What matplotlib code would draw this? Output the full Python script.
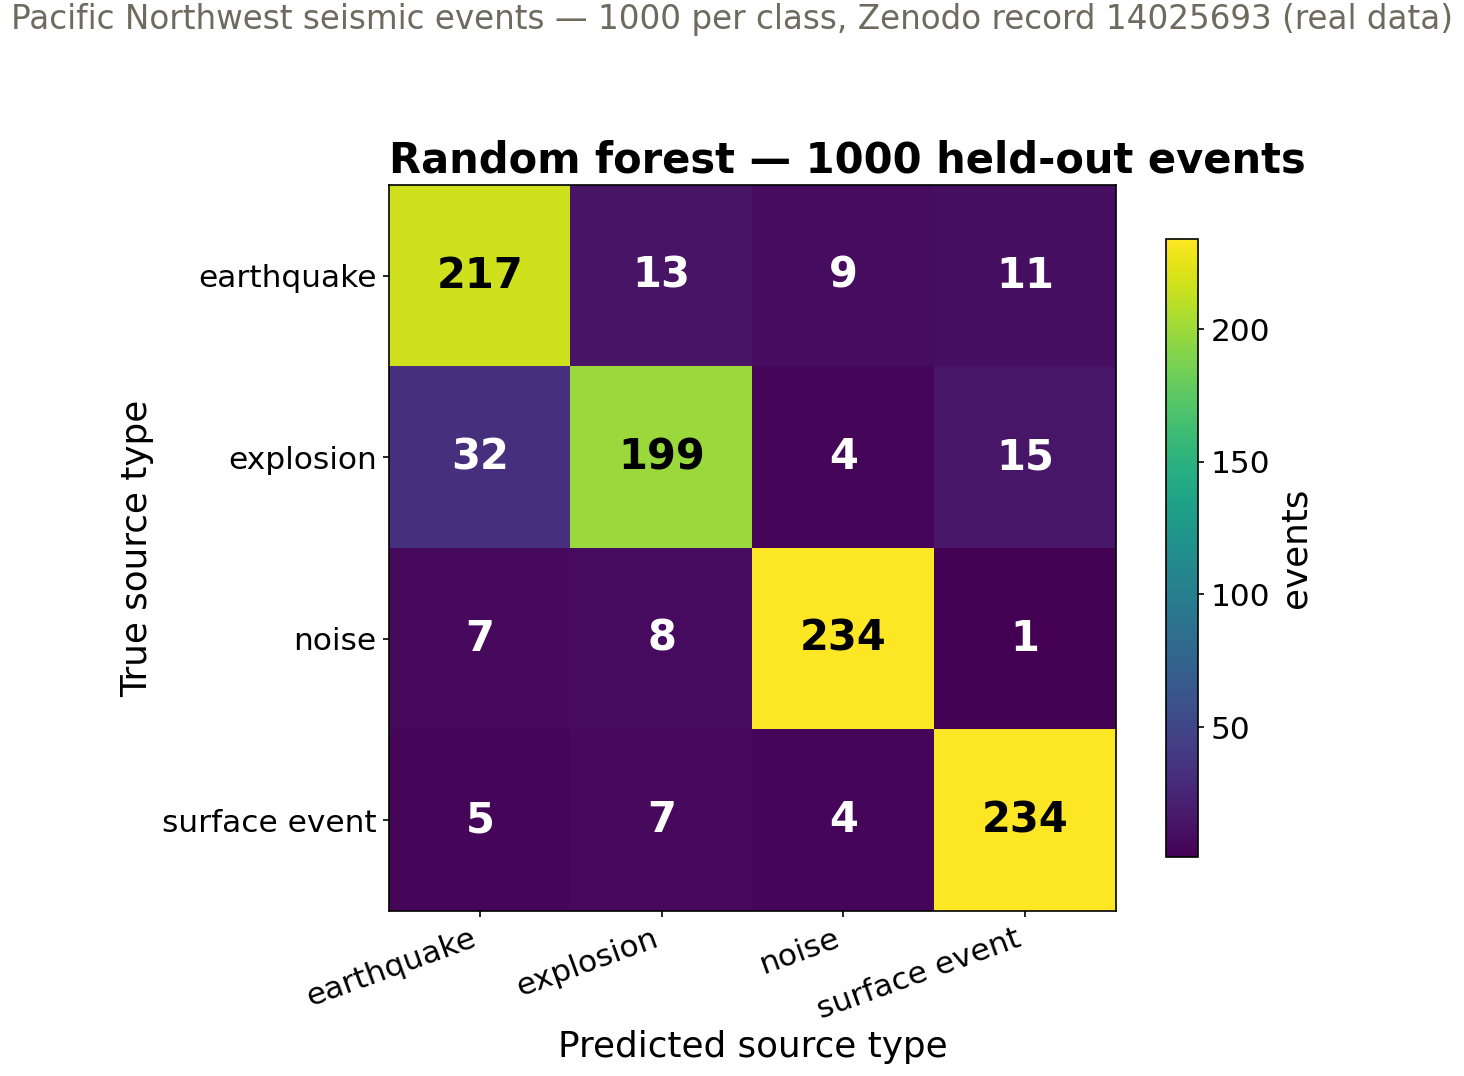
import matplotlib
matplotlib.use("Agg")
import matplotlib.pyplot as plt
import numpy as np

classes = ["earthquake", "explosion", "noise", "surface event"]
counts = [
    [217, 13, 9, 11],
    [32, 199, 4, 15],
    [7, 8, 234, 1],
    [5, 7, 4, 234],
]
cbar_ticks = [50, 100, 150, 200]

cm = np.array(counts)

W, H = 1464, 1076
fig = plt.figure(figsize=(W/150, H/150), dpi=150)
ax = fig.add_axes([389/W, 1 - 911/H, (1116-389)/W, (911-185)/H])
im = ax.imshow(cm, cmap="viridis", aspect="auto")

thresh = (cm.max() + cm.min()) / 2
for i in range(cm.shape[0]):
    for j in range(cm.shape[1]):
        ax.text(j, i, str(cm[i, j]), ha="center", va="center",
                fontsize=20, fontweight="bold",
                color="black" if cm[i, j] > thresh else "white")

ax.set_xticks(range(len(classes)))
ax.set_yticks(range(len(classes)))
ax.set_xticklabels(classes, rotation=20, ha="right", fontsize=15)
ax.set_yticklabels(classes, fontsize=15)
ax.tick_params(length=3, pad=3)
ax.set_xlabel("Predicted source type", fontsize=17.2, labelpad=3)
ax.set_ylabel("True source type", fontsize=17.2, labelpad=3.5)
ax.set_title("Random forest — 1000 held-out events", fontsize=20,
             fontweight="bold", loc="left", pad=6)

cax = fig.add_axes([1166/W, 1 - 857/H, 32/W, (857-239)/H])
cb = fig.colorbar(im, cax=cax)
cb.set_ticks(cbar_ticks)
cb.ax.tick_params(labelsize=15, length=3, pad=3)
cb.set_label("events", fontsize=17.2)

fig.suptitle("Pacific Northwest seismic events — 1000 per class, Zenodo record 14025693 (real data)",
             fontsize=15.65, color="#6e6a5e", x=0.5, y=0.997)

fig.savefig("out.png", dpi=150)
